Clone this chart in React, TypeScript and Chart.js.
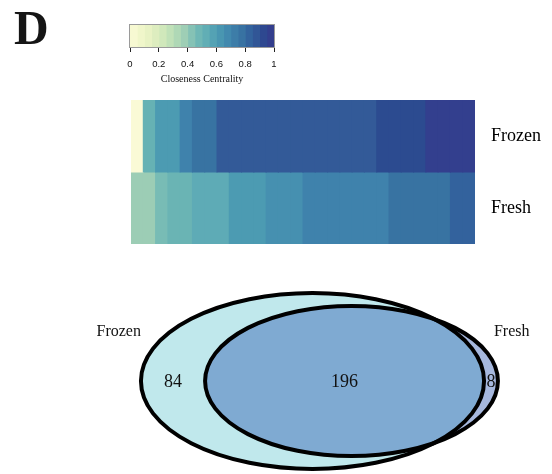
import React, { useEffect, useRef } from "react";
import { Chart, registerables } from "chart.js";

Chart.register(...registerables);

// ---------------- data ----------------
const nodeIds = ["1","2","3","4","5","6","7","8","9","10","11","12","13","14","15","16","17","18","19","20","21","22","23","24","25","26","27","28"];
const rowNames = ["Frozen", "Fresh"];
const frozenCentrality = [0.0, 0.5, 0.6, 0.6, 0.7, 0.77, 0.77, 0.86, 0.86, 0.86, 0.86, 0.86, 0.86, 0.86, 0.86, 0.86, 0.86, 0.86, 0.86, 0.86, 0.91, 0.91, 0.91, 0.91, 0.97, 0.97, 0.97, 0.97];
const freshCentrality = [0.38, 0.38, 0.45, 0.49, 0.49, 0.54, 0.54, 0.54, 0.6, 0.6, 0.6, 0.65, 0.65, 0.65, 0.7, 0.7, 0.7, 0.7, 0.7, 0.7, 0.7, 0.77, 0.77, 0.77, 0.77, 0.77, 0.83, 0.83];
const legendTicks = [0, 0.2, 0.4, 0.6, 0.8, 1];
const legendTitle = "Closeness Centrality";
const legendBinCount = 20;
const panelLabel = "D";

const vennSets = ["Frozen", "Fresh"];
const vennOnly = [84, 8];
const vennBoth = 196;

// ---------------- styles ----------------
const SERIF = "'Liberation Serif', 'Times New Roman', serif";
const SANS = "'Liberation Sans', Arial, sans-serif";
const colorStops: [number, string][] = [
  [0.0, "#fafad6"], [0.1, "#edf4c6"], [0.2, "#d8ebbc"], [0.3, "#b8ddb7"],
  [0.38, "#9ccdb5"], [0.45, "#78bcb5"], [0.5, "#66b2b4"], [0.54, "#5eabb6"],
  [0.6, "#4c9bb2"], [0.65, "#4690b0"], [0.7, "#3f82ac"], [0.77, "#3873a2"],
  [0.83, "#33629d"], [0.86, "#335a98"], [0.91, "#2c4b90"], [0.97, "#333f8e"],
  [1.0, "#333b8a"],
];

function hexToRgb(h: string) {
  const n = parseInt(h.slice(1), 16);
  return [(n >> 16) & 255, (n >> 8) & 255, n & 255];
}
function colorFor(v: number) {
  for (let i = 0; i < colorStops.length - 1; i++) {
    const [a, ca] = colorStops[i];
    const [b, cb] = colorStops[i + 1];
    if (v <= b) {
      const t = b === a ? 0 : Math.max(0, (v - a) / (b - a));
      const A = hexToRgb(ca), B = hexToRgb(cb);
      const c = A.map((x, k) => Math.round(x + (B[k] - x) * t));
      return `rgb(${c[0]},${c[1]},${c[2]})`;
    }
  }
  return colorStops[colorStops.length - 1][1];
}

const W = 552, H = 474;

export default function App() {
  const heatRef = useRef<HTMLCanvasElement | null>(null);
  const legRef = useRef<HTMLCanvasElement | null>(null);
  const vennRef = useRef<HTMLCanvasElement | null>(null);

  useEffect(() => {
    const charts: Chart[] = [];

    // ---------- heatmap ----------
    const rowData = [frozenCentrality, freshCentrality];
    const heat = new Chart(heatRef.current!, {
      type: "bar",
      data: {
        labels: nodeIds,
        datasets: rowNames.map((name, r) => ({
          label: name,
          data: rowData[r].map(() => [rowNames.length - r - 1, rowNames.length - r]),
          backgroundColor: rowData[r].map(colorFor),
          borderWidth: 0,
          inflateAmount: 0.5,
          grouped: false,
          barPercentage: 1,
          categoryPercentage: 1,
        })) as any,
      },
      options: {
        animation: false,
        responsive: false,
        events: [],
        layout: { padding: { left: 131, top: 100, right: 0, bottom: 230 } },
        plugins: { legend: { display: false }, tooltip: { enabled: false } },
        scales: {
          x: { display: false },
          y: {
            min: 0,
            max: rowNames.length,
            position: "right",
            grid: { display: false, drawTicks: false },
            border: { display: false },
            afterBuildTicks: (s: any) => {
              s.ticks = rowNames.map((_, r) => ({ value: rowNames.length - r - 0.5 }));
            },
            afterFit: (s: any) => { s.width = 77; },
            ticks: {
              padding: 16,
              color: "#000",
              font: { family: SERIF, size: 18 },
              callback: (v: any) => rowNames[rowNames.length - 1 - Math.floor(Number(v))],
            },
          },
        },
      },
      plugins: [
        {
          id: "panelLabel",
          afterDraw: (c: any) => {
            const ctx = c.ctx;
            ctx.save();
            ctx.fillStyle = "#151515";
            ctx.font = `bold 48px ${SERIF}`;
            ctx.textAlign = "left";
            ctx.textBaseline = "alphabetic";
            ctx.fillText(panelLabel, 14, 43.5);
            ctx.restore();
          },
        },
      ],
    } as any);
    charts.push(heat);

    // ---------- color legend ----------
    const bins = Array.from({ length: legendBinCount }, (_, i) => i);
    const leg = new Chart(legRef.current!, {
      type: "bar",
      data: {
        labels: ["scale"],
        datasets: bins.map((i) => ({
          data: [[i / legendBinCount, (i + 1) / legendBinCount]],
          backgroundColor: colorFor((i + 0.5) / legendBinCount),
          borderWidth: 0,
          inflateAmount: 0.5,
          grouped: false,
          barPercentage: 1,
          categoryPercentage: 1,
        })) as any,
      },
      options: {
        animation: false,
        responsive: false,
        events: [],
        indexAxis: "y",
        layout: { padding: { left: 130, right: W - 274, top: 25, bottom: H - 47 - 40 } },
        plugins: { legend: { display: false }, tooltip: { enabled: false } },
        scales: {
          y: { display: false },
          x: {
            type: "linear",
            min: 0,
            max: 1,
            position: "bottom",
            afterBuildTicks: (s: any) => {
              s.ticks = legendTicks.map((v) => ({ value: v }));
            },
            afterFit: (s: any) => { s.height = 40; },
            grid: { drawOnChartArea: false, drawTicks: true, tickLength: 5, color: "#222", lineWidth: 1 },
            border: { display: false },
            ticks: {
              padding: 7,
              color: "#111",
              font: { family: SANS, size: 9.5 },
              maxRotation: 0,
              autoSkip: false,
              callback: (v: any) => String(v),
            },
            title: {
              display: true,
              text: legendTitle,
              color: "#111",
              font: { family: SERIF, size: 10 },
              padding: { top: 0, bottom: 2 },
            },
          },
        },
      },
      plugins: [
        {
          id: "legendBorder",
          afterDatasetsDraw: (c: any) => {
            const { left, top, width, height } = c.chartArea;
            const ctx = c.ctx;
            ctx.save();
            ctx.strokeStyle = "#9a9a9a";
            ctx.lineWidth = 1;
            ctx.strokeRect(left - 0.5, top - 0.5, width + 1, height + 1);
            ctx.restore();
          },
        },
      ],
    } as any);
    charts.push(leg);

    // ---------- venn ----------
    const totals = [vennOnly[0] + vennBoth, vennOnly[1] + vennBoth];
    const vennLayout = { centersX: [312.5, 351.5], centerY: 381, areaPerItem: 53.9, aspect: 1.95 };
    const vennFills = ["#c0e8ec", "rgba(21,68,168,0.38)"];
    const venn = new Chart(vennRef.current!, {
      type: "scatter",
      data: { datasets: [{ data: [], showLine: false }] },
      options: {
        animation: false,
        responsive: false,
        events: [],
        layout: { padding: 0 },
        plugins: { legend: { display: false }, tooltip: { enabled: false } },
        scales: {
          x: { display: false, min: 0, max: W },
          y: { display: false, min: 0, max: H, reverse: true },
        },
      },
      plugins: [
        {
          id: "vennDraw",
          afterDraw: (c: any) => {
            const ctx = c.ctx;
            const xs = c.scales.x, ys = c.scales.y;
            const ell = totals.map((n, i) => {
              const ry = Math.sqrt((n * vennLayout.areaPerItem) / vennLayout.aspect);
              const rx = ry * vennLayout.aspect;
              const cx = xs.getPixelForValue(vennLayout.centersX[i]);
              const cy = ys.getPixelForValue(vennLayout.centerY);
              const sx = xs.getPixelForValue(vennLayout.centersX[i] + rx) - cx;
              const sy = cy - ys.getPixelForValue(vennLayout.centerY + ry);
              return { cx, cy, rx: Math.abs(sx), ry: Math.abs(sy) };
            });
            ctx.save();
            ell.forEach((e, i) => {
              ctx.beginPath();
              ctx.ellipse(e.cx, e.cy, e.rx, e.ry, 0, 0, Math.PI * 2);
              ctx.fillStyle = vennFills[i];
              ctx.fill();
            });
            ell.forEach((e) => {
              ctx.beginPath();
              ctx.ellipse(e.cx, e.cy, e.rx, e.ry, 0, 0, Math.PI * 2);
              ctx.strokeStyle = "#000";
              ctx.lineWidth = 4;
              ctx.stroke();
            });
            const aL = ell[0].cx - ell[0].rx, aR = ell[0].cx + ell[0].rx;
            const bL = ell[1].cx - ell[1].rx, bR = ell[1].cx + ell[1].rx;
            const cy = ell[0].cy;
            ctx.fillStyle = "#111";
            ctx.textBaseline = "middle";
            ctx.textAlign = "center";
            ctx.font = `18px ${SERIF}`;
            ctx.fillText(String(vennOnly[0]), (aL + bL) / 2, cy + 1);
            ctx.fillText(String(vennBoth), (bL + aR) / 2, cy + 1);
            ctx.fillText(String(vennOnly[1]), (aR + bR) / 2, cy + 1);
            ctx.font = `16px ${SERIF}`;
            ctx.textAlign = "right";
            ctx.fillText(vennSets[0], aL, cy - 49);
            ctx.textAlign = "left";
            ctx.fillText(vennSets[1], bR - 4, cy - 49);
            ctx.restore();
          },
        },
      ],
    } as any);
    charts.push(venn);

    return () => charts.forEach((ch) => ch.destroy());
  }, []);

  const cStyle: React.CSSProperties = { position: "absolute", left: 0, top: 0, width: W, height: H, display: "block" };
  return (
    <div style={{ position: "fixed", left: 0, top: 0, width: W, height: H, background: "#fff" }}>
      <canvas ref={heatRef} width={W} height={H} style={cStyle} />
      <canvas ref={legRef} width={W} height={H} style={cStyle} />
      <canvas ref={vennRef} width={W} height={H} style={cStyle} />
    </div>
  );
}
